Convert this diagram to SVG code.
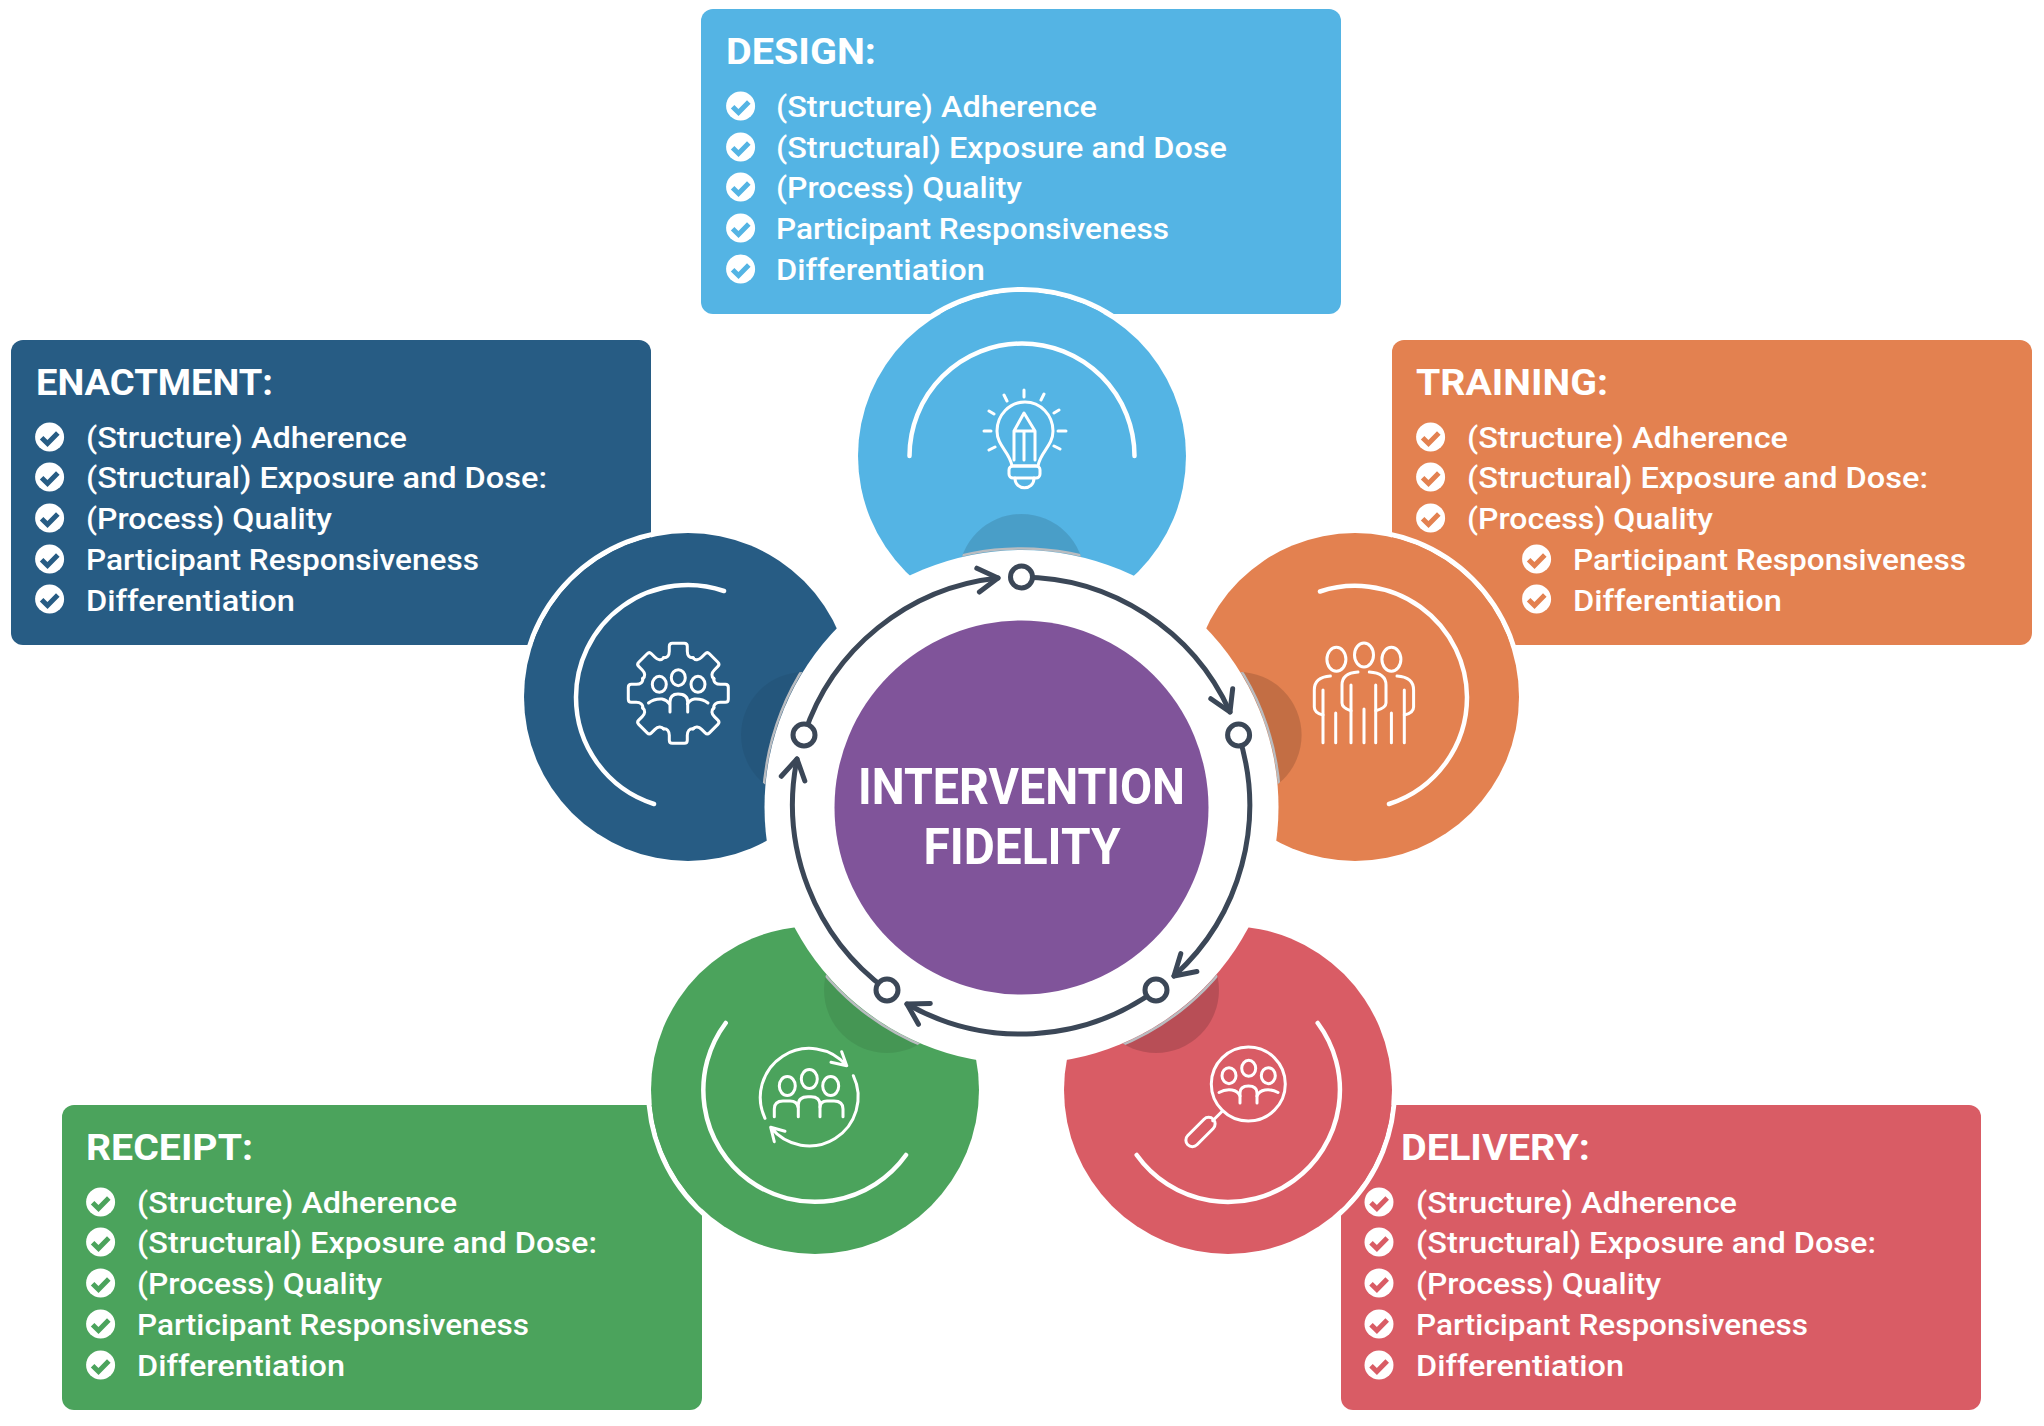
<svg xmlns="http://www.w3.org/2000/svg" xmlns:xlink="http://www.w3.org/1999/xlink" width="2044" height="1426" viewBox="0 0 2044 1426">
<style>
text{font-family:"Roboto","Liberation Sans",sans-serif;fill:#fff}
.h{font-size:37px;font-weight:700}
.t{font-size:29px;font-weight:500}
.c{font-size:50px;font-weight:700;text-anchor:middle}
.ln{fill:none;stroke:#fff;stroke-width:3;stroke-linecap:round;stroke-linejoin:round}
.arc{fill:none;stroke:#fff;stroke-width:4.5;stroke-linecap:round}
.halo{fill:none;stroke:#fff;stroke-width:5}
.con{fill:none;stroke:#3b4757;stroke-width:5;stroke-linecap:round;marker-end:url(#arr)}
.nd{fill:#fff;stroke:#3b4757;stroke-width:5}
.design{color:#54b4e4;fill:#54b4e4}
.enact{color:#275c84;fill:#275c84}
.train{color:#e38150;fill:#e38150}
.receipt{color:#4ba35c;fill:#4ba35c}
.deliv{color:#d95c65;fill:#d95c65}
</style>
<defs>
<marker id="arr" markerUnits="userSpaceOnUse" markerWidth="40" markerHeight="40" refX="0" refY="0" orient="auto" overflow="visible"><path d="M-20,-12 L0,0 L-20,12" fill="none" stroke="#3b4757" stroke-width="5" stroke-linecap="round" stroke-linejoin="round"/></marker>
<g id="chk"><circle r="14.5" fill="#fff"/><path d="M-8,.7 L-2.1,6.5 L8.2,-4" fill="none" stroke="currentColor" stroke-width="5"/></g>
<path id="tooth" d="M-15,-35.5 C-11,-35 -9,-38 -9,-42 V-47 Q-9,-50 -6,-50 H6 Q9,-50 9,-47 V-42 C9,-38 11,-35 15,-35.5"/>
<clipPath id="darks"><circle cx="1021.5" cy="577" r="63"/><circle cx="1238.6" cy="735" r="63"/><circle cx="1156" cy="990" r="63"/><circle cx="887" cy="990" r="63"/><circle cx="804" cy="735" r="63"/></clipPath>
</defs>

<g id="node-design" class="design">
<rect x="701" y="9" width="640" height="305" rx="12"/>
<g transform="translate(701,9)">
<text class="h" x="25" y="55" textLength="150" lengthAdjust="spacingAndGlyphs">DESIGN:</text>
<use xlink:href="#chk" x="39.6" y="97"/><use xlink:href="#chk" x="39.6" y="138"/><use xlink:href="#chk" x="39.6" y="178"/><use xlink:href="#chk" x="39.6" y="219"/><use xlink:href="#chk" x="39.6" y="260"/>
<text class="t" x="75" y="108" textLength="321" lengthAdjust="spacingAndGlyphs">(Structure) Adherence</text>
<text class="t" x="75" y="149" textLength="451" lengthAdjust="spacingAndGlyphs">(Structural) Exposure and Dose</text>
<text class="t" x="75" y="189" textLength="246" lengthAdjust="spacingAndGlyphs">(Process) Quality</text>
<text class="t" x="75" y="230" textLength="393" lengthAdjust="spacingAndGlyphs">Participant Responsiveness</text>
<text class="t" x="75" y="271" textLength="209" lengthAdjust="spacingAndGlyphs">Differentiation</text>
</g>
<circle cx="1022" cy="456" r="166.5" class="halo"/>
<circle cx="1022" cy="456" r="164"/>
<circle cx="1021.5" cy="577" r="63" fill="#000" opacity=".12"/>
<path d="M909.5,456 A112.5,112.5 0 0 1 1134.5,456" class="arc"/>
<g class="ln">
<path d="M1012,466 C1010,452 997,446 997,431 A28,29 0 0 1 1053,431 C1053,446 1040,452 1038,466 Z"/>
<rect x="1009" y="466" width="31" height="12" rx="4"/>
<path d="M1015,478 C1015,491 1034,491 1034,478"/>
<path d="M1014,460 V431 L1024,413 L1035,431 V460 M1014,431 H1035 M1024,431 V460"/>
<path d="M1024,390 V397 M1004,395 L1007,401 M1044,394 L1041,400 M989,411 L994,414 M1059,410 L1054,413 M984,431 H991 M1058,431 H1066 M989,450 L995,447 M1060,449 L1054,446"/>
</g>
</g>

<g id="node-enactment" class="enact">
<rect x="11" y="340" width="640" height="305" rx="12"/>
<g transform="translate(11,340)">
<text class="h" x="25" y="55" textLength="237" lengthAdjust="spacingAndGlyphs">ENACTMENT:</text>
<use xlink:href="#chk" x="38.6" y="97"/><use xlink:href="#chk" x="38.6" y="137"/><use xlink:href="#chk" x="38.6" y="178"/><use xlink:href="#chk" x="38.6" y="219"/><use xlink:href="#chk" x="38.6" y="259"/>
<text class="t" x="75" y="108" textLength="321" lengthAdjust="spacingAndGlyphs">(Structure) Adherence</text>
<text class="t" x="75" y="148" textLength="461" lengthAdjust="spacingAndGlyphs">(Structural) Exposure and Dose:</text>
<text class="t" x="75" y="189" textLength="246" lengthAdjust="spacingAndGlyphs">(Process) Quality</text>
<text class="t" x="75" y="230" textLength="393" lengthAdjust="spacingAndGlyphs">Participant Responsiveness</text>
<text class="t" x="75" y="271" textLength="209" lengthAdjust="spacingAndGlyphs">Differentiation</text>
</g>
<circle cx="688" cy="697" r="166.5" class="halo"/>
<circle cx="688" cy="697" r="164"/>
<circle cx="804" cy="735" r="63" fill="#000" opacity=".06"/>
<path d="M724,591 A112,112 0 0 0 576,697 A112,112 0 0 0 654,804" class="arc"/>
<g class="ln">
<g transform="translate(678.3,693.3)"><use xlink:href="#tooth"/><use xlink:href="#tooth" transform="rotate(45)"/><use xlink:href="#tooth" transform="rotate(90)"/><use xlink:href="#tooth" transform="rotate(135)"/><use xlink:href="#tooth" transform="rotate(180)"/><use xlink:href="#tooth" transform="rotate(225)"/><use xlink:href="#tooth" transform="rotate(270)"/><use xlink:href="#tooth" transform="rotate(315)"/></g>
<ellipse cx="659.3" cy="684.3" rx="7" ry="8"/><ellipse cx="678.3" cy="677.7" rx="7" ry="8"/><ellipse cx="698" cy="684.3" rx="7" ry="8"/>
<path d="M670,712 V702 Q670,694 678,694 Q687.7,694 687.7,702 V712"/>
<path d="M648.5,703 Q654,698.5 662,699 Q667,700 669.5,704"/>
<path d="M708,703 Q702.5,698.5 694.5,699 Q689.5,700 687.5,704"/>
</g>
</g>

<g id="node-training" class="train">
<rect x="1392" y="340" width="640" height="305" rx="12"/>
<g transform="translate(1392,340)">
<text class="h" x="24" y="55" textLength="192" lengthAdjust="spacingAndGlyphs">TRAINING:</text>
<use xlink:href="#chk" x="38.6" y="97"/><use xlink:href="#chk" x="38.6" y="137"/><use xlink:href="#chk" x="38.6" y="178"/><use xlink:href="#chk" x="144.6" y="219"/><use xlink:href="#chk" x="144.6" y="259"/>
<text class="t" x="75" y="108" textLength="321" lengthAdjust="spacingAndGlyphs">(Structure) Adherence</text>
<text class="t" x="75" y="148" textLength="461" lengthAdjust="spacingAndGlyphs">(Structural) Exposure and Dose:</text>
<text class="t" x="75" y="189" textLength="246" lengthAdjust="spacingAndGlyphs">(Process) Quality</text>
<text class="t" x="181" y="230" textLength="393" lengthAdjust="spacingAndGlyphs">Participant Responsiveness</text>
<text class="t" x="181" y="271" textLength="209" lengthAdjust="spacingAndGlyphs">Differentiation</text>
</g>
<circle cx="1355" cy="697" r="166.5" class="halo"/>
<circle cx="1355" cy="697" r="164"/>
<circle cx="1238.6" cy="735" r="63" fill="#000" opacity=".14"/>
<path d="M1320,591.5 A112,112 0 0 1 1467,697 A112,112 0 0 1 1389,804" class="arc"/>
<g class="ln">
<ellipse cx="1336.4" cy="659.3" rx="9.5" ry="12"/><ellipse cx="1364" cy="655" rx="9.5" ry="12"/><ellipse cx="1391.4" cy="659.3" rx="9.5" ry="12"/>
<path d="M1323,690 V742.7 M1335.7,713 V742.7 M1351,685 V742.7 M1364,709 V742.7 M1375.7,685 V742.7 M1391.4,713 V742.7 M1404.3,690 V742.7"/>
<path d="M1330.4,676 Q1314.3,677 1314.3,690 V707 Q1314.3,713 1323,715"/>
<path d="M1358,672 Q1342,673 1342,685 V703 Q1342,708 1351,710.7"/>
<path d="M1369.3,672 Q1386,673 1386,685 V703 Q1386,708 1375.7,710.7"/>
<path d="M1397,676 Q1413.6,677 1413.6,690 V707 Q1413.6,713 1404.3,715"/>
</g>
</g>

<g id="node-receipt" class="receipt">
<rect x="62" y="1105" width="640" height="305" rx="12"/>
<g transform="translate(62,1105)">
<text class="h" x="24" y="55" textLength="167" lengthAdjust="spacingAndGlyphs">RECEIPT:</text>
<use xlink:href="#chk" x="38.6" y="97"/><use xlink:href="#chk" x="38.6" y="137"/><use xlink:href="#chk" x="38.6" y="178"/><use xlink:href="#chk" x="38.6" y="219"/><use xlink:href="#chk" x="38.6" y="260"/>
<text class="t" x="75" y="108" textLength="320" lengthAdjust="spacingAndGlyphs">(Structure) Adherence</text>
<text class="t" x="75" y="148" textLength="460" lengthAdjust="spacingAndGlyphs">(Structural) Exposure and Dose:</text>
<text class="t" x="75" y="189" textLength="245" lengthAdjust="spacingAndGlyphs">(Process) Quality</text>
<text class="t" x="75" y="230" textLength="392" lengthAdjust="spacingAndGlyphs">Participant Responsiveness</text>
<text class="t" x="75" y="271" textLength="208" lengthAdjust="spacingAndGlyphs">Differentiation</text>
</g>
<circle cx="815" cy="1090" r="166.5" class="halo"/>
<circle cx="815" cy="1090" r="164"/>
<circle cx="887" cy="990" r="63" fill="#000" opacity=".08"/>
<path d="M725.7,1023 A112,112 0 0 0 749,1180.4 A112,112 0 0 0 906,1155" class="arc"/>
<g class="ln">
<path d="M765,1118.3 A49,49 0 0 1 846.7,1065.7 M841.7,1051.7 L846.7,1065.7 L831,1062.3"/>
<path d="M853.3,1075.7 A49,49 0 0 1 770.7,1127.3 M785,1131.3 L770.7,1127.3 L774.3,1141.7"/>
<ellipse cx="787.3" cy="1086" rx="8" ry="9.5"/><ellipse cx="809.3" cy="1079" rx="8" ry="9.5"/><ellipse cx="830.7" cy="1086" rx="8" ry="9.5"/>
<path d="M798.3,1116.7 V1105 Q798.3,1096.7 808,1096.7 H811 Q820,1096.7 820,1105 V1116.7"/>
<path d="M774.3,1116.7 V1109 Q774.3,1101 783,1101 H790 Q797,1101 798,1107"/>
<path d="M843,1116.7 V1109 Q843,1101 834,1101 H827 Q820.5,1101 820,1107"/>
</g>
</g>

<g id="node-delivery" class="deliv">
<rect x="1341" y="1105" width="640" height="305" rx="12"/>
<g transform="translate(1341,1105)">
<text class="h" x="60" y="55" textLength="189" lengthAdjust="spacingAndGlyphs">DELIVERY:</text>
<use xlink:href="#chk" x="38" y="97"/><use xlink:href="#chk" x="38" y="137"/><use xlink:href="#chk" x="38" y="178"/><use xlink:href="#chk" x="38" y="219"/><use xlink:href="#chk" x="38" y="260"/>
<text class="t" x="75" y="108" textLength="321" lengthAdjust="spacingAndGlyphs">(Structure) Adherence</text>
<text class="t" x="75" y="148" textLength="460" lengthAdjust="spacingAndGlyphs">(Structural) Exposure and Dose:</text>
<text class="t" x="75" y="189" textLength="245" lengthAdjust="spacingAndGlyphs">(Process) Quality</text>
<text class="t" x="75" y="230" textLength="392" lengthAdjust="spacingAndGlyphs">Participant Responsiveness</text>
<text class="t" x="75" y="271" textLength="208" lengthAdjust="spacingAndGlyphs">Differentiation</text>
</g>
<circle cx="1228" cy="1090" r="166.5" class="halo"/>
<circle cx="1228" cy="1090" r="164"/>
<circle cx="1156" cy="990" r="63" fill="#000" opacity=".15"/>
<path d="M1317.7,1023 A112,112 0 0 1 1294,1180.4 A112,112 0 0 1 1136.7,1155" class="arc"/>
<g class="ln">
<circle cx="1248.3" cy="1084" r="37"/>
<ellipse cx="1229" cy="1075.7" rx="7" ry="8"/><ellipse cx="1248.7" cy="1068.3" rx="7" ry="8"/><ellipse cx="1268.3" cy="1075.7" rx="7" ry="8"/>
<path d="M1240,1103 V1093 Q1240,1086 1248.5,1086 Q1257,1086 1257,1093 V1103"/>
<path d="M1219,1092.5 Q1225,1089 1232,1090 Q1238,1091 1240,1096"/>
<path d="M1278,1092.5 Q1272,1089 1265,1090 Q1259,1091 1257,1096"/>
<path d="M1221.7,1111.7 L1212.7,1120.7"/>
<rect x="-18" y="-6.5" width="36" height="13" rx="6.5" transform="translate(1200.5,1132) rotate(-45)"/>
</g>
</g>

<g id="hub-disc">
<circle cx="1021.5" cy="807" r="258.5" fill="none" stroke="#b9bcc0" stroke-width="2.5" clip-path="url(#darks)"/>
<circle cx="1021.5" cy="807" r="257" fill="#fff"/>
</g>

<g id="connectors">
<path class="con" d="M804,735 A230,230 0 0 1 998,578"/>
<path class="con" d="M1021.5,577 A230,230 0 0 1 1230,712"/>
<path class="con" d="M1238.6,735 A230,230 0 0 1 1174,976"/>
<path class="con" d="M1156,990 A230,230 0 0 1 907,1004"/>
<path class="con" d="M887,990 A230,230 0 0 1 797,759"/>
<circle class="nd" cx="1021.5" cy="577" r="11"/>
<circle class="nd" cx="1238.6" cy="735" r="11"/>
<circle class="nd" cx="1156" cy="990" r="11"/>
<circle class="nd" cx="887" cy="990" r="11"/>
<circle class="nd" cx="804" cy="735" r="11"/>
</g>

<g id="node-center">
<circle cx="1021.5" cy="807.5" r="187" fill="#80549a"/>
<text class="c" x="1021.5" y="804" textLength="327" lengthAdjust="spacingAndGlyphs">INTERVENTION</text>
<text class="c" x="1022" y="864" textLength="197" lengthAdjust="spacingAndGlyphs">FIDELITY</text>
</g>
</svg>
